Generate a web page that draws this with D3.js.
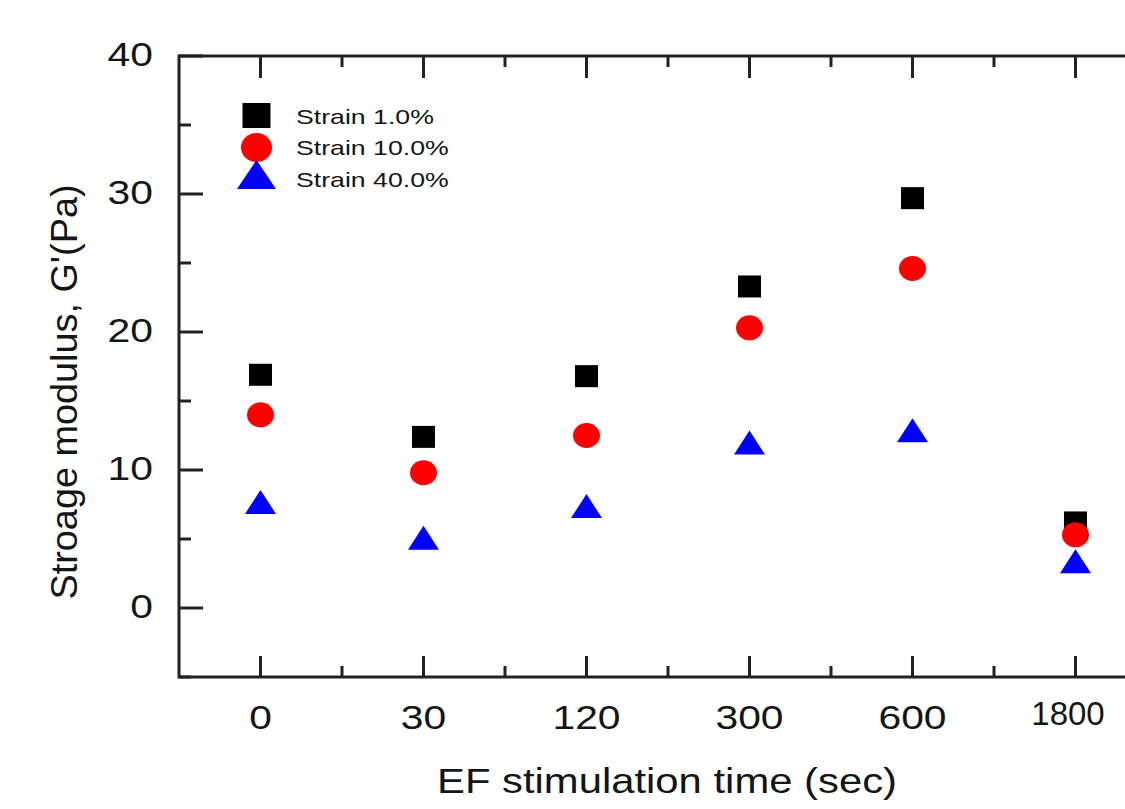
<!DOCTYPE html>
<html>
<head>
<meta charset="utf-8">
<script src="https://cdn.jsdelivr.net/npm/d3@7"></script>
<style>
  body { margin: 0; background: #fff; }
  svg text { font-family: "Liberation Sans", Arial, sans-serif; fill: #151515; }
</style>
</head>
<body>
<svg id="chart" width="1125" height="809"></svg>
<script>
// EF stimulation time categories (sec)
const times = ["0", "30", "120", "300", "600", "1800"];
const strain1 = [16.9, 12.4, 16.8, 23.3, 29.7, 6.2];
const strain10 = [14.0, 9.8, 12.5, 20.3, 24.6, 5.3];
const strain40 = [7.6, 5.0, 7.3, 11.9, 12.8, 3.3];
const yTicks = [0, 10, 20, 30, 40];
const yMinor = [-5, 5, 15, 25, 35];

const series = [
    { name: "Strain 1.0%", values: strain1, shape: "square", color: "#000000" },
    { name: "Strain 10.0%", values: strain10, shape: "circle", color: "#ff0000" },
    { name: "Strain 40.0%", values: strain40, shape: "triangle", color: "#0000ff" }
];

const svg = d3.select("#chart");
const pLeft = 179, pTop = 56, pBottom = 677, pRight = 1157;
const axisColor = "#222";

const x = d3.scaleLinear().domain([-0.5, times.length - 0.5]).range([pLeft, pRight]);
const y = d3.scaleLinear().domain([-5, 40]).range([pBottom, pTop]);

const idx = d3.range(times.length);
const minorX = d3.range(times.length + 1).map(i => i - 0.5).filter(v => v > -0.5);

// the source picture is a little stretched sideways, so text gets scaleX
const addText = function (g, tx, ty, str, size, sx, anchor) {
    return g.append("text")
        .attr("transform", `translate(${tx},${ty}) scale(${sx},1)`)
        .attr("text-anchor", anchor || "start")
        .attr("font-size", size)
        .text(str);
};

// frame
const frame = svg.append("g");
frame.append("rect")
    .attr("x", pLeft).attr("y", pTop)
    .attr("width", pRight - pLeft).attr("height", pBottom - pTop)
    .attr("fill", "none").attr("stroke", axisColor).attr("stroke-width", 3);

// ticks, all pointing inward
const drawTicks = function (vals, len, axis) {
    vals.forEach(v => {
        if (axis === "bottom") {
            frame.append("line").attr("x1", x(v)).attr("x2", x(v)).attr("y1", pBottom).attr("y2", pBottom - len);
        } else if (axis === "top") {
            frame.append("line").attr("x1", x(v)).attr("x2", x(v)).attr("y1", pTop).attr("y2", pTop + len);
        } else {
            frame.append("line").attr("x1", pLeft).attr("x2", pLeft + len).attr("y1", y(v)).attr("y2", y(v));
        }
    });
};
drawTicks(idx, 21, "bottom");
drawTicks(minorX, 11, "bottom");
drawTicks(idx, 22, "top");
drawTicks(minorX, 11, "top");
drawTicks(yTicks, 24, "left");
drawTicks(yMinor, 12, "left");
frame.selectAll("line").attr("stroke", axisColor).attr("stroke-width", 3);

// tick labels
const labels = svg.append("g");
yTicks.forEach(v => addText(labels, 153, y(v) + 10, v, 34, 1.2, "end"));
times.forEach((t, i) => {
    if (i === times.length - 1) {
        addText(labels, 1068, 725, t, 33, 1.0, "middle");
    } else {
        addText(labels, x(i), 729, t, 34, 1.2, "middle");
    }
});

// axis titles
svg.append("text")
    .attr("x", 667).attr("y", 793)
    .attr("text-anchor", "middle")
    .attr("font-size", 35)
    .attr("textLength", 460)
    .attr("lengthAdjust", "spacingAndGlyphs")
    .text("EF stimulation time (sec)");

svg.append("text")
    .attr("transform", "translate(77,392) rotate(-90)")
    .attr("text-anchor", "middle")
    .attr("font-size", 37)
    .attr("textLength", 415)
    .attr("lengthAdjust", "spacingAndGlyphs")
    .text("Stroage modulus, G'(Pa)");

// markers
const drawMarker = function (g, shape, color, cx, cy, s) {
    if (shape === "square") {
        g.append("rect").attr("x", cx - s.sw / 2).attr("y", cy - s.sh / 2)
            .attr("width", s.sw).attr("height", s.sh).attr("fill", color);
    } else if (shape === "circle") {
        g.append("ellipse").attr("cx", cx).attr("cy", cy).attr("rx", s.rx).attr("ry", s.ry).attr("fill", color);
    } else {
        const w = s.tw, h = s.th;
        g.append("path")
            .attr("d", `M${cx},${cy - h * 0.55}L${cx + w / 2},${cy + h * 0.45}L${cx - w / 2},${cy + h * 0.45}Z`)
            .attr("fill", color);
    }
};

const dataSize = { sw: 23, sh: 22, rx: 13.5, ry: 12.5, tw: 31, th: 24 };
const marks = svg.append("g");
series.forEach(s => {
    s.values.forEach((v, i) => {
        drawMarker(marks, s.shape, s.color, x(i), y(v), dataSize);
    });
});

// legend
const legendSize = { sw: 28, sh: 25, rx: 15.5, ry: 14.5, tw: 39, th: 29 };
const legendY = [115.5, 147.5, 176];
const legendBase = [124, 155, 187];
const legend = svg.append("g");
series.forEach((s, i) => {
    drawMarker(legend, s.shape, s.color, 256.5, legendY[i], legendSize);
    addText(legend, 296, legendBase[i], s.name, 21, 1.27);
});
</script>
</body>
</html>
